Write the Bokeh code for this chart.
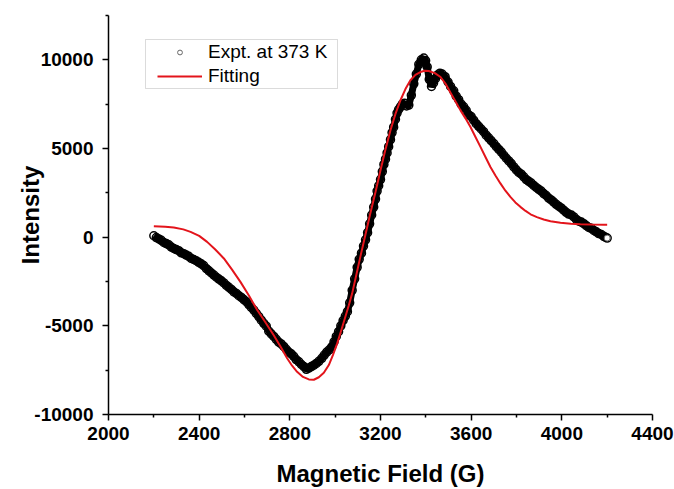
from bokeh.plotting import figure
from bokeh.models import (Range1d, Legend, LegendItem, ColumnDataSource, FixedTicker,
                          PrintfTickFormatter, BoxAnnotation)
from bokeh.embed import file_html
from bokeh.resources import INLINE

# Experimental data (Magnetic Field in G, Intensity)
field_expt = [2200, 2211, 2222, 2233, 2244, 2255, 2266, 2277, 2288, 2299, 2310, 2321, 2332, 2343, 2354,
              2365, 2376, 2387, 2398, 2409, 2420, 2432, 2443, 2454, 2465, 2476, 2487, 2498, 2509, 2520,
              2531, 2542, 2553, 2564, 2575, 2586, 2597, 2608, 2619, 2630, 2641, 2652, 2663, 2674, 2685,
              2696, 2707, 2718, 2729, 2740, 2751, 2762, 2773, 2784, 2795, 2806, 2817, 2828, 2840, 2851,
              2862, 2873, 2884, 2895, 2906, 2917, 2928, 2941, 2952, 2963, 2974, 2985, 2995, 3005, 3015,
              3025, 3035, 3045, 3054, 3064, 3075, 3086, 3097, 3106, 3116, 3125, 3134, 3143, 3152, 3161,
              3170, 3178, 3185, 3192, 3200, 3208, 3215, 3222, 3229, 3236, 3244, 3251, 3258, 3266, 3273,
              3280, 3288, 3296, 3306, 3315, 3325, 3336, 3347, 3358, 3369, 3380, 3391, 3399, 3406, 3415,
              3425, 3434, 3443, 3452, 3462, 3472, 3485, 3498, 3509, 3523, 3534, 3545, 3556, 3567, 3578,
              3589, 3600, 3611, 3622, 3633, 3644, 3655, 3666, 3677, 3688, 3700, 3711, 3722, 3733, 3744,
              3755, 3766, 3777, 3788, 3799, 3810, 3821, 3832, 3843, 3854, 3865, 3876, 3887, 3898, 3909,
              3920, 3931, 3942, 3953, 3964, 3975, 3986, 3997, 4008, 4019, 4030, 4042, 4053, 4064, 4075,
              4086, 4097, 4108, 4119, 4130, 4141, 4152, 4163, 4174, 4185, 4192, 4200]
intensity_expt = [80, -20, -100, -180, -300, -360, -430, -560, -640, -700, -760, -880, -930, -1010, -1080,
                  -1200, -1260, -1330, -1420, -1500, -1600, -1780, -1900, -2020, -2140, -2260, -2360, -2460, -2580, -2720,
                  -2830, -2950, -3080, -3170, -3300, -3400, -3520, -3640, -3800, -3960, -4110, -4300, -4480, -4680, -4860,
                  -5020, -5300, -5450, -5600, -5760, -5920, -6020, -6160, -6320, -6480, -6580, -6720, -6900, -7030, -7180,
                  -7300, -7450, -7380, -7300, -7220, -7120, -7000, -6830, -6650, -6480, -6350, -6180, -5900, -5600, -5330,
                  -5000, -4700, -4450, -4200, -3700, -3000, -2350, -1700, -1250, -900, -500, -150, 250, 750, 1250,
                  1700, 2150, 2600, 2900, 3250, 3700, 4100, 4400, 4750, 5100, 5500, 5900, 6200, 6650, 7000,
                  7200, 7350, 7500, 7550, 7400, 7450, 8000, 8650, 9200, 9750, 10000, 10100, 9950, 9600, 8900,
                  8500, 8700, 8950, 9150, 9250, 9200, 9050, 8750, 8500, 8250, 7950, 7750, 7500, 7350, 7150,
                  6900, 6800, 6600, 6400, 6250, 6100, 5950, 5750, 5600, 5450, 5280, 5100, 4950, 4800, 4620,
                  4450, 4300, 4150, 3960, 3800, 3650, 3550, 3400, 3250, 3150, 3050, 2920, 2800, 2700, 2600,
                  2460, 2350, 2200, 2100, 1980, 1850, 1750, 1650, 1520, 1400, 1300, 1250, 1140, 1000, 900,
                  850, 760, 650, 550, 500, 380, 300, 200, 150, 50, 0, -50]

# Fitting curve
field_fit = [2200, 2250, 2288, 2330, 2362, 2400, 2435, 2470, 2509, 2545, 2582, 2620, 2656, 2692, 2729,
             2760, 2788, 2810, 2832, 2858, 2884, 2906, 2928, 2950, 2972, 2990, 3009, 3027, 3045, 3060,
             3075, 3093, 3111, 3133, 3155, 3178, 3200, 3222, 3244, 3266, 3288, 3310, 3332, 3354, 3376,
             3395, 3413, 3440, 3465, 3487, 3509, 3531, 3553, 3575, 3597, 3619, 3641, 3663, 3685, 3707,
             3729, 3751, 3773, 3795, 3817, 3840, 3862, 3890, 3920, 3950, 3994, 4040, 4082, 4130, 4185, 4200]
intensity_fit = [620, 590, 545, 440, 300, 70, -265, -680, -1200, -1830, -2520, -3300, -4110, -4800, -5530,
                 -6200, -6830, -7250, -7590, -7880, -8020, -8040, -7900, -7650, -7210, -6650, -5990, -5250, -4490, -3850,
                 -3170, -2150, -1110, 110, 1330, 2550, 3770, 4950, 6030, 6950, 7720, 8350, 8850, 9150, 9310,
                 9380, 9370, 9250, 9030, 8650, 8150, 7650, 7150, 6700, 6210, 5650, 5090, 4520, 3960, 3480,
                 3030, 2620, 2270, 1960, 1710, 1480, 1290, 1130, 1000, 900, 810, 760, 730, 710, 700, 700]

x_ticks = [2000, 2400, 2800, 3200, 3600, 4000, 4400]
x_minor = [2200, 2600, 3000, 3400, 3800, 4200]
y_ticks = [-10000, -5000, 0, 5000, 10000]
y_minor = [-7500, -2500, 2500, 7500, 12500]

FONT = "Liberation Sans"

p = figure(width=674, height=489, output_backend="svg", toolbar_location=None,
           x_range=Range1d(2000, 4400), y_range=Range1d(-10000, 12500),
           min_border_left=108, min_border_right=22, min_border_top=15, min_border_bottom=74)
p.outline_line_color = None
p.xgrid.visible = False
p.ygrid.visible = False

src = ColumnDataSource(dict(x=field_expt, y=intensity_expt))
p.line("x", "y", source=src, line_color="black", line_width=7)
p.scatter("x", "y", source=src, size=8, marker="circle", fill_color=None,
          line_color="black", line_width=1.5)
last = p.scatter([field_expt[-1]], [intensity_expt[-1]], size=6, marker="circle",
                 fill_color="white", line_color="#666666", line_width=1)

fit = p.line(field_fit, intensity_fit, line_color="#e3141b", line_width=2)

for ax in (p.xaxis[0], p.yaxis[0]):
    ax.axis_line_width = 1.5
    ax.axis_line_color = "black"
    ax.major_tick_line_width = 1.5
    ax.minor_tick_line_width = 1.5
    ax.major_tick_out = 6
    ax.major_tick_in = 0
    ax.minor_tick_out = 3
    ax.minor_tick_in = 0
    ax.major_label_text_font = FONT
    ax.major_label_text_font_style = "bold"
    ax.major_label_text_font_size = "19px"
    ax.major_label_text_color = "black"
    ax.axis_label_text_font = FONT
    ax.axis_label_text_font_style = "bold"
    ax.axis_label_text_font_size = "24px"
    ax.axis_label_text_color = "black"
    ax.formatter = PrintfTickFormatter(format="%d")

p.xaxis[0].ticker = FixedTicker(ticks=x_ticks, minor_ticks=x_minor)
p.yaxis[0].ticker = FixedTicker(ticks=y_ticks, minor_ticks=y_minor)
p.xaxis[0].axis_label = "Magnetic Field (G)"
p.yaxis[0].axis_label = "Intensity"
p.xaxis[0].major_label_standoff = 6
p.xaxis[0].axis_label_standoff = 17
p.yaxis[0].major_label_standoff = 9
p.yaxis[0].axis_label_standoff = -13

# legend frame drawn as a screen-space box
box = BoxAnnotation(left=37, right=229, bottom=326, top=375,
                    left_units="screen", right_units="screen",
                    bottom_units="screen", top_units="screen",
                    fill_color="white", fill_alpha=1,
                    line_color="#888888", line_width=1, level="annotation")
p.add_layout(box)

legend = Legend(items=[LegendItem(label="Expt. at 373 K", renderers=[last]),
                       LegendItem(label="Fitting", renderers=[fit])],
                location=(49, 327))
legend.label_text_font = FONT
legend.label_text_font_size = "19px"
legend.label_text_color = "black"
legend.border_line_color = None
legend.background_fill_alpha = 0
legend.padding = 0
legend.margin = 0
legend.spacing = 2
legend.glyph_width = 45
legend.glyph_height = 12
legend.label_height = 22
legend.label_standoff = 6
p.add_layout(legend, "center")

open("out.html", "w").write(file_html(p, INLINE))
